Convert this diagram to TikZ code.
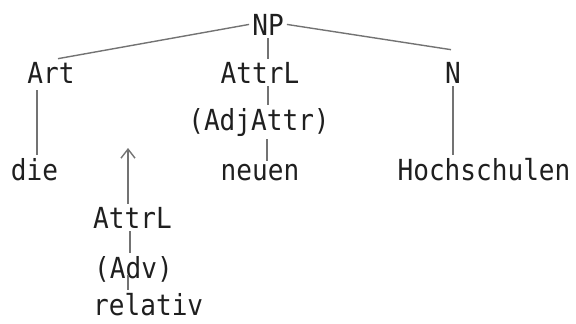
\documentclass[tikz,border=0pt]{standalone}
\usepackage{fontspec}
\newfontfamily\typewriter[FakeStretch=0.9]{DejaVu Sans Mono}
\usepackage{tikz}
\usetikzlibrary{arrows.meta}

\definecolor{pencil}{gray}{0.45}
\definecolor{ink}{gray}{0.12}

\tikzset{
  word/.style={anchor=base,inner sep=3pt,text=ink,font=\typewriter\fontsize{29}{30}\selectfont},
  branch/.style={draw=pencil,line width=1.4pt},
}

\begin{document}
\begin{tikzpicture}[x=1pt,y=-1pt]
\useasboundingbox (0,0) rectangle (576,324);

% Top level of the tree
\node[word] (NP) at (268,35) {NP};
\node[word] (Art) at (51,83) {Art};
\node[word] (AttrL) at (260,83) {AttrL};
\node[word] (N) at (453,83) {N};
\node[word] (AdjAttr) at (259,130) {(AdjAttr)};

% Words of the phrase
\node[word] (die) at (34.5,180) {die};
\node[word] (neuen) at (260,180) {neuen};
\node[word] (Hochschulen) at (484,180) {Hochschulen};

% Lower stack, left aligned
\node[word,anchor=base west] (AttrLb) at (90,228) {AttrL};
\node[word,anchor=base west] (Adv) at (91,278) {(Adv)};
\node[word,anchor=base west] (relativ) at (90,315) {relativ};
\coordinate (hook) at (128,148);

\draw[branch] (NP.west) -- ([xshift=7pt]Art.north);
\draw[branch] (NP.east) -- ([xshift=-2pt,yshift=9pt]N.north);
\draw[branch] (NP.south) -- (NP.south |- AttrL.north);
\draw[branch] (NP.south |- AttrL.south) -- (NP.south |- AdjAttr.north);
\draw[branch] ([xshift=-1pt]NP.south |- AdjAttr.south) -- ([xshift=-1pt]NP.south |- neuen.north);

\draw[branch] ([xshift=2.5pt]die.north) -- ([xshift=2.5pt,yshift=-4pt]die.north |- Art.south);
\draw[branch] (N.south) -- (N.south |- Hochschulen.north);

\draw[branch,-{Straight Barb[length=9pt,width=14pt,line width=1.4pt]}] (hook |- AttrLb.north) -- (hook);
\draw[branch] ([xshift=2pt]hook |- AttrLb.south) -- ([xshift=2pt]hook |- Adv.north);
\draw[branch] ([yshift=10pt]hook |- Adv.south) -- (hook |- relativ.north);

\end{tikzpicture}
\end{document}
